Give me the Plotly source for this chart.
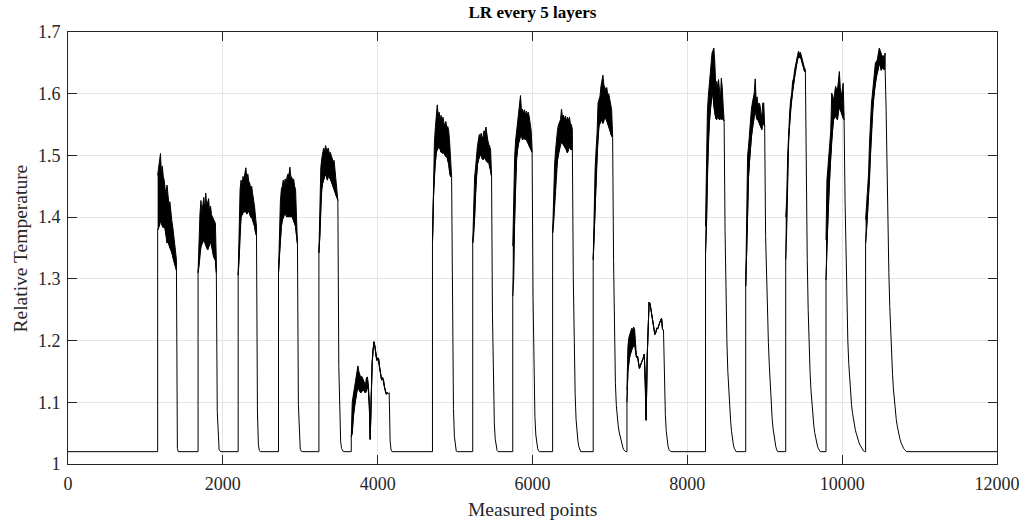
import numpy as np
import plotly.graph_objects as go

# Relative temperature recorded while the laser re-scans every 5 layers.
# Each heating pulse: start index, end index, upper / lower envelope of the
# noisy plateau (evenly spaced between start and end) and cooling readings
# taken every 12 points after the pulse ends.
baseline = 1.02
cool_step = 12

pulse_start = [1158, 1680, 2198, 2719, 3241, 3659, 4708, 5228, 5745,
               6260, 6784, 7220, 8235, 8754, 9271, 9791, 10303]
pulse_end = [1401, 1916, 2435, 2964, 3486, 4149, 4955, 5471, 5995,
             6515, 7035, 7692, 8475, 8999, 9525, 10025, 10555]

plateau_hi = [
    [1.468, 1.48, 1.492, 1.503, 1.47, 1.483, 1.465, 1.46, 1.445, 1.44, 1.452,
     1.43, 1.42, 1.425, 1.405, 1.395, 1.385, 1.363, 1.358, 1.345, 1.33],
    [1.31, 1.37, 1.406, 1.427, 1.41, 1.42, 1.432, 1.412, 1.439, 1.418, 1.425,
     1.43, 1.408, 1.418, 1.404, 1.40, 1.398, 1.395, 1.39, 1.33],
    [1.306, 1.40, 1.445, 1.46, 1.452, 1.466, 1.462, 1.471, 1.48, 1.462, 1.47,
     1.458, 1.455, 1.446, 1.45, 1.438, 1.43, 1.417, 1.40, 1.385],
    [1.31, 1.40, 1.425, 1.445, 1.45, 1.46, 1.452, 1.462, 1.455, 1.465, 1.47,
     1.468, 1.481, 1.466, 1.465, 1.458, 1.462, 1.45, 1.445, 1.40, 1.36],
    [1.342, 1.44, 1.48, 1.495, 1.509, 1.512, 1.506, 1.516, 1.51, 1.51,
     1.512, 1.502, 1.505, 1.50, 1.498, 1.49, 1.492, 1.476, 1.465, 1.455,
     1.433],
    [1.044, 1.10, 1.11, 1.12, 1.13, 1.145, 1.155, 1.159, 1.15, 1.145, 1.14,
     1.142, 1.138, 1.136, 1.13, 1.128, 1.14, 1.141, 1.13, 1.10, 1.04,
     1.11, 1.163, 1.185, 1.198, 1.19, 1.175, 1.168, 1.172, 1.17, 1.156,
     1.145, 1.136, 1.14, 1.136, 1.125, 1.117, 1.113, 1.116, 1.114, 1.115],
    [1.358, 1.49, 1.52, 1.545, 1.568, 1.582, 1.565, 1.57, 1.556, 1.565,
     1.555, 1.562, 1.552, 1.55, 1.555, 1.545, 1.547, 1.54, 1.52, 1.50, 1.466],
    [1.358, 1.43, 1.465, 1.48, 1.505, 1.515, 1.525, 1.534, 1.53, 1.536,
     1.528, 1.531, 1.54, 1.536, 1.546, 1.53, 1.525, 1.518, 1.515, 1.509,
     1.466],
    [1.353, 1.45, 1.50, 1.525, 1.54, 1.56, 1.574, 1.59, 1.597, 1.572, 1.575,
     1.568, 1.574, 1.565, 1.572, 1.566, 1.57, 1.563, 1.55, 1.54, 1.509],
    [1.374, 1.455, 1.485, 1.509, 1.53, 1.542, 1.55, 1.555, 1.558, 1.575,
     1.562, 1.565, 1.558, 1.564, 1.555, 1.562, 1.556, 1.562, 1.552, 1.55,
     1.542],
    [1.331, 1.428, 1.48, 1.51, 1.536, 1.585, 1.59, 1.596, 1.612, 1.625, 1.63,
     1.614, 1.61, 1.606, 1.61, 1.598, 1.6, 1.59, 1.585, 1.574, 1.531],
    [1.12, 1.19, 1.205, 1.21, 1.215, 1.22, 1.218, 1.222, 1.218, 1.19,
     1.172, 1.175, 1.163, 1.155, 1.16, 1.163, 1.168, 1.172, 1.178, 1.14,
     1.071, 1.17, 1.225, 1.262, 1.26, 1.25, 1.24, 1.232, 1.22, 1.21, 1.213,
     1.22, 1.219, 1.225, 1.229, 1.233, 1.236, 1.218, 1.217],
    [1.385, 1.52, 1.57, 1.596, 1.617, 1.64, 1.655, 1.666, 1.67, 1.674, 1.65,
     1.612, 1.62, 1.612, 1.623, 1.60, 1.59, 1.625, 1.61, 1.58, 1.558],
    [1.288, 1.45, 1.50, 1.515, 1.54, 1.558, 1.575, 1.585, 1.595, 1.601,
     1.624, 1.59, 1.595, 1.579, 1.585, 1.582, 1.57, 1.56, 1.585, 1.585,
     1.547],
    [1.40, 1.43, 1.50, 1.545, 1.57, 1.59, 1.60, 1.62, 1.625, 1.638, 1.648,
     1.655, 1.662, 1.669, 1.665, 1.667, 1.66, 1.655, 1.648, 1.642, 1.639],
    [1.363, 1.46, 1.48, 1.50, 1.515, 1.54, 1.601, 1.595, 1.59, 1.60, 1.612,
     1.608, 1.606, 1.62, 1.636, 1.61, 1.596, 1.605, 1.617, 1.563],
    [1.396, 1.42, 1.44, 1.47, 1.52, 1.563, 1.585, 1.60, 1.62, 1.635, 1.65,
     1.652, 1.655, 1.665, 1.674, 1.67, 1.666, 1.66, 1.662, 1.655, 1.666],
]

plateau_lo = [
    [1.379, 1.383, 1.387, 1.395, 1.39, 1.385, 1.383, 1.388, 1.382, 1.37,
     1.358, 1.362, 1.355, 1.35, 1.347, 1.343, 1.338, 1.33, 1.325, 1.318,
     1.314],
    [1.31, 1.32, 1.345, 1.352, 1.357, 1.36, 1.363, 1.36, 1.355, 1.35, 1.347,
     1.352, 1.355, 1.362, 1.355, 1.345, 1.336, 1.333, 1.33, 1.31],
    [1.306, 1.33, 1.38, 1.40, 1.405, 1.406, 1.41, 1.408, 1.41, 1.405, 1.408,
     1.41, 1.405, 1.40, 1.40, 1.395, 1.39, 1.385, 1.375, 1.37],
    [1.31, 1.34, 1.365, 1.385, 1.395, 1.40, 1.405, 1.406, 1.403, 1.40,
     1.405, 1.40, 1.405, 1.40, 1.402, 1.40, 1.395, 1.39, 1.385, 1.37, 1.357],
    [1.342, 1.37, 1.42, 1.445, 1.455, 1.462, 1.466, 1.47, 1.465, 1.46,
     1.468, 1.465, 1.462, 1.46, 1.455, 1.45, 1.445, 1.44, 1.435, 1.433,
     1.427],
    [1.044, 1.05, 1.075, 1.09, 1.10, 1.11, 1.12, 1.125, 1.12, 1.118, 1.115,
     1.12, 1.118, 1.12, 1.118, 1.115, 1.12, 1.125, 1.12, 1.095, 1.04,
     1.11, 1.163, 1.185, 1.198, 1.19, 1.175, 1.168, 1.172, 1.17, 1.156,
     1.145, 1.136, 1.14, 1.136, 1.125, 1.117, 1.113, 1.116, 1.114, 1.115],
    [1.358, 1.43, 1.47, 1.49, 1.505, 1.51, 1.512, 1.515, 1.51, 1.505, 1.505,
     1.503, 1.505, 1.50, 1.498, 1.498, 1.495, 1.485, 1.47, 1.466, 1.466],
    [1.358, 1.37, 1.40, 1.44, 1.466, 1.485, 1.493, 1.498, 1.50, 1.503,
     1.495, 1.493, 1.497, 1.495, 1.493, 1.49, 1.488, 1.49, 1.48, 1.477,
     1.466],
    [1.272, 1.30, 1.40, 1.46, 1.495, 1.51, 1.52, 1.528, 1.53, 1.535, 1.525,
     1.528, 1.53, 1.525, 1.528, 1.522, 1.52, 1.515, 1.512, 1.509, 1.505],
    [1.374, 1.39, 1.42, 1.455, 1.48, 1.493, 1.505, 1.51, 1.518, 1.522, 1.52,
     1.518, 1.515, 1.512, 1.509, 1.504, 1.51, 1.515, 1.51, 1.509, 1.509],
    [1.331, 1.37, 1.43, 1.465, 1.50, 1.535, 1.548, 1.552, 1.555, 1.558,
     1.552, 1.556, 1.563, 1.56, 1.556, 1.552, 1.548, 1.542, 1.537, 1.531,
     1.53],
    [1.10, 1.15, 1.165, 1.175, 1.18, 1.185, 1.19, 1.19, 1.195, 1.182,
     1.172, 1.175, 1.163, 1.155, 1.16, 1.163, 1.168, 1.172, 1.178, 1.14,
     1.071, 1.17, 1.225, 1.262, 1.26, 1.25, 1.24, 1.232, 1.22, 1.21, 1.213,
     1.22, 1.219, 1.225, 1.229, 1.233, 1.236, 1.218, 1.217],
    [1.342, 1.385, 1.47, 1.52, 1.55, 1.574, 1.585, 1.596, 1.60, 1.58, 1.569,
     1.56, 1.558, 1.565, 1.56, 1.558, 1.56, 1.558, 1.56, 1.558, 1.556],
    [1.288, 1.342, 1.42, 1.466, 1.49, 1.515, 1.53, 1.542, 1.555, 1.563,
     1.575, 1.565, 1.558, 1.558, 1.553, 1.55, 1.545, 1.542, 1.555, 1.55,
     1.547],
    [1.331, 1.38, 1.47, 1.525, 1.55, 1.575, 1.59, 1.605, 1.615, 1.628, 1.64,
     1.648, 1.655, 1.66, 1.658, 1.66, 1.653, 1.648, 1.642, 1.637, 1.635],
    [1.298, 1.36, 1.40, 1.44, 1.47, 1.50, 1.525, 1.545, 1.558, 1.562, 1.565,
     1.56, 1.558, 1.57, 1.579, 1.575, 1.57, 1.565, 1.56, 1.558],
    [1.358, 1.38, 1.405, 1.43, 1.46, 1.50, 1.54, 1.57, 1.59, 1.605, 1.618,
     1.628, 1.635, 1.64, 1.65, 1.645, 1.638, 1.642, 1.64, 1.64, 1.639],
]

cooling = [
    [1.025, 1.02],
    [1.085, 1.034, 1.023, 1.021, 1.02],
    [1.086, 1.032, 1.022, 1.02],
    [1.096, 1.037, 1.024, 1.021, 1.02],
    [1.158, 1.066, 1.036, 1.025, 1.022, 1.02],
    [1.037, 1.023, 1.02],
    [1.20, 1.09, 1.045, 1.028, 1.021, 1.02],
    [1.24, 1.12, 1.065, 1.04, 1.028, 1.022, 1.02],
    [1.27, 1.14, 1.077, 1.047, 1.032, 1.025, 1.021, 1.02],
    [1.30, 1.18, 1.112, 1.072, 1.05, 1.037, 1.028, 1.023, 1.02],
    [1.33, 1.20, 1.13, 1.095, 1.075, 1.062, 1.052, 1.045, 1.038, 1.032,
     1.027, 1.023, 1.021, 1.02],
    [1.13, 1.08, 1.053, 1.037, 1.028, 1.023, 1.021, 1.02],
    [1.38, 1.27, 1.20, 1.15, 1.115, 1.09, 1.07, 1.053, 1.04, 1.031, 1.025,
     1.022, 1.02],
    [1.37, 1.30, 1.245, 1.197, 1.16, 1.125, 1.097, 1.075, 1.058, 1.045,
     1.035, 1.028, 1.023, 1.02],
    [1.45, 1.33, 1.25, 1.19, 1.15, 1.12, 1.097, 1.078, 1.063, 1.051, 1.042,
     1.035, 1.029, 1.025, 1.022, 1.02],
    [1.43, 1.33, 1.26, 1.20, 1.163, 1.135, 1.113, 1.096, 1.083, 1.072, 1.063,
     1.056, 1.05, 1.044, 1.039, 1.035, 1.031, 1.028, 1.025, 1.023, 1.021,
     1.02],
    [1.58, 1.47, 1.38, 1.31, 1.255, 1.21, 1.175, 1.145, 1.12, 1.10, 1.085,
     1.072, 1.062, 1.053, 1.046, 1.04, 1.035, 1.031, 1.028, 1.025, 1.023,
     1.021, 1.02],
]

x_max = 12000
x_ticks = [0, 2000, 4000, 6000, 8000, 10000, 12000]
y_ticks = [1, 1.1, 1.2, 1.3, 1.4, 1.5, 1.6, 1.7]

line_col = "black"
serif = "Liberation Serif, Times New Roman, serif"
axis_col = "#262626"
grid_col = "#e4e4e4"

fig = go.Figure()

# main signal: baseline, jump onto the plateau, cooling tail, baseline ...
xs, ys = [0.0], [baseline]
for start, end, lo, cool in zip(pulse_start, pulse_end, plateau_lo, cooling):
    xs.append(start)
    ys.append(baseline)
    xs.extend(np.linspace(start, end, len(lo)))
    ys.extend(lo)
    xs.extend(end + cool_step * np.arange(1, len(cool) + 1))
    ys.extend(cool)
xs.append(x_max)
ys.append(baseline)

# the rapid fluctuation on each plateau shows as a solid band
for start, end, hi, lo in zip(pulse_start, pulse_end, plateau_hi, plateau_lo):
    px = np.linspace(start, end, len(hi))
    fig.add_trace(go.Scatter(
        x=np.concatenate([px, px[::-1]]),
        y=np.concatenate([np.array(hi), np.array(lo)[::-1]]),
        mode="lines", fill="toself", fillcolor=line_col,
        line=dict(color=line_col, width=1), hoverinfo="skip",
    ))

fig.add_trace(go.Scatter(x=xs, y=ys, mode="lines",
                         line=dict(color=line_col, width=1), hoverinfo="skip"))

common = dict(
    showline=True, linecolor=axis_col, linewidth=1, mirror="ticks",
    ticks="inside", ticklen=9, tickwidth=1, tickcolor=axis_col,
    showgrid=True, gridcolor=grid_col, gridwidth=1, zeroline=False,
    tickfont=dict(family=serif, size=18, color=axis_col),
    ticklabelstandoff=3,
)

fig.update_xaxes(range=[0, x_max], tickvals=x_ticks,
                 ticktext=[str(v) for v in x_ticks], **common)
fig.update_yaxes(range=[1, 1.7], tickvals=y_ticks,
                 ticktext=["1"] + [f"{v:.1f}" for v in y_ticks[1:]], **common)

fig.update_layout(
    width=1032, height=521,
    margin=dict(l=68, r=26, t=32, b=57),
    paper_bgcolor="white", plot_bgcolor="white",
    showlegend=False,
    title=dict(text="<b>LR every 5 layers</b>", x=0.5, xref="paper",
               y=1 - 12 / 521, yref="container", yanchor="middle",
               font=dict(family=serif, size=17, color="black")),
    annotations=[
        dict(text="Measured points", x=0.5, xref="paper",
             y=-(509 - 464) / 432, yref="paper", yanchor="middle",
             showarrow=False, font=dict(family=serif, size=19.5, color=axis_col)),
        dict(text="Relative Temperature", x=-(68 - 20) / 938, xref="paper",
             y=0.5, yref="paper", xanchor="center", yanchor="middle",
             textangle=-90, showarrow=False,
             font=dict(family=serif, size=19.5, color=axis_col)),
    ],
)

fig.write_html("out.html")
